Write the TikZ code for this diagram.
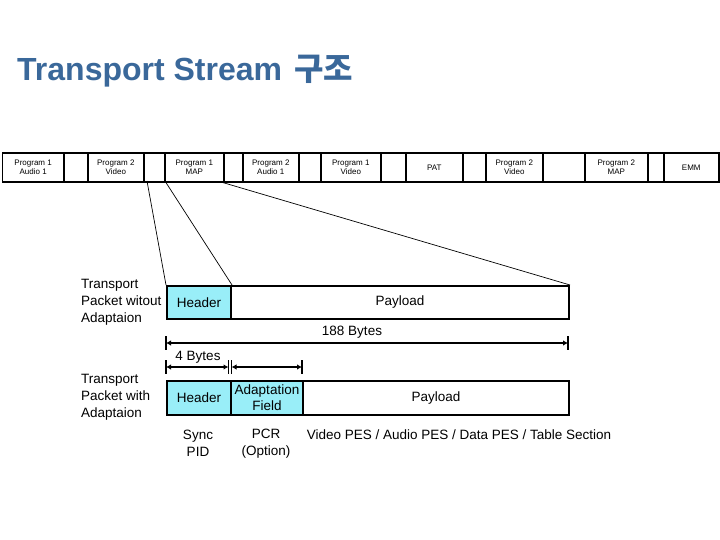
\documentclass[tikz,border=0pt]{standalone}
\usepackage{fontspec}
\setmainfont{Liberation Sans}
\newfontfamily\cjk{Noto Sans CJK KR}
\usetikzlibrary{arrows.meta}
\definecolor{titleblue}{RGB}{58,104,154}
\definecolor{hcyan}{RGB}{153,238,248}
\begin{document}
\begin{tikzpicture}[x=1pt,y=-1pt,
 cell/.style={draw, line width=1.6pt, minimum height=29pt, inner sep=0pt, align=center,
   font=\fontsize{8}{8.5}\selectfont, anchor=north west},
 pbox/.style={draw, line width=2pt, inner sep=0pt, align=center,
   font=\fontsize{13.5}{16}\selectfont, anchor=north west},
 hfill/.style={fill=hcyan},
 lbl/.style={align=left, font=\fontsize{13.5}{17}\selectfont, inner sep=0pt, anchor=west},
 txt/.style={align=center, font=\fontsize{13.5}{17}\selectfont, inner sep=0pt},
 dim/.style={line width=1.5pt, {Latex[length=5pt,width=5.5pt]}-{Latex[length=5pt,width=5.5pt]}},
 endbar/.style={line width=1.5pt},
 link/.style={line width=0.7pt}]
\useasboundingbox (0,0) rectangle (720,540);

% title
\node[anchor=west, inner sep=0pt, text=titleblue, font=\fontsize{32}{32}\selectfont\bfseries] (title) at (17,71) {Transport Stream\hspace{3pt} {\cjk\bfseries 구조}};

% stream strip
\node[cell, minimum width=61.3pt] (c1) at (1.7,152) {Program 1\\Audio 1};
\node[cell, minimum width=24pt] (c2) at (63,152) {};
\node[cell, minimum width=56pt] (c3) at (87,152) {Program 2\\Video};
\node[cell, minimum width=21pt] (c4) at (143,152) {};
\node[cell, minimum width=59pt] (c5) at (164,152) {Program 1\\MAP};
\node[cell, minimum width=19pt] (c6) at (223,152) {};
\node[cell, minimum width=56pt] (c7) at (242,152) {Program 2\\Audio 1};
\node[cell, minimum width=22pt] (c8) at (298,152) {};
\node[cell, minimum width=60pt] (c9) at (320,152) {Program 1\\Video};
\node[cell, minimum width=25pt] (c10) at (380,152) {};
\node[cell, minimum width=57pt] (c11) at (405,152) {PAT};
\node[cell, minimum width=23pt] (c12) at (462,152) {};
\node[cell, minimum width=57pt] (c13) at (485,152) {Program 2\\Video};
\node[cell, minimum width=42pt] (c14) at (542,152) {};
\node[cell, minimum width=63pt] (c15) at (584,152) {Program 2\\MAP};
\node[cell, minimum width=16pt] (c16) at (647,152) {};
\node[cell, minimum width=55pt] (c17) at (663,152) {EMM};

% packet without adaptation
\node[pbox, hfill, minimum width=64pt, minimum height=33pt] (h1) at (166,285) {Header};
\node[pbox, minimum width=338pt, minimum height=33pt] (p1) at (230,285) {Payload};
\node[lbl] (l1) at (81,302) {Transport\\Packet witout\\Adaptaion};

% links from strip
\coordinate (s1) at (147,181);
\draw[link] (s1) -- (h1.north west);
\draw[link] (c5.south west) ++(2,0) coordinate (s2) -- (h1.north east);
\draw[link] (c6.south west) -- (p1.north east);

% 188 bytes
\coordinate (d1a) at (166,343);
\coordinate (d1b) at (568,343);
\draw[dim] (d1a) -- (d1b);
\draw[endbar] (166,336) -- (166,350);
\draw[endbar] (568,336) -- (568,350);
\node[txt] (b188) at (352,332) {188 Bytes};

% 4 bytes
\coordinate (d2a) at (166,367);
\coordinate (d2b) at (230,367);
\coordinate (d2c) at (302,367);
\draw[dim] (d2a) -- ([xshift=-1.5pt]d2b);
\draw[dim] ([xshift=1.5pt]d2b) -- (d2c);
\draw[endbar] (166,360) -- (166,374);
\draw[endbar] (228.5,360) -- (228.5,374);
\draw[endbar] (231.5,360) -- (231.5,374);
\draw[endbar] (302,360) -- (302,374);
\node[txt] (b4) at (198,357) {4 Bytes};

% packet with adaptation
\node[pbox, hfill, minimum width=64pt, minimum height=34pt] (h2) at (166,380) {Header};
\node[pbox, hfill, minimum width=72pt, minimum height=34pt] (af) at (230,380) {Adaptation\\Field};
\node[pbox, minimum width=266pt, minimum height=34pt] (p2) at (302,380) {Payload};
\node[lbl] (l2) at (81,397) {Transport\\Packet with\\Adaptaion};

% descriptions
\node[txt] (n1) at (198,443.5) {Sync\\PID};
\node[txt] (n2) at (266,443.5) {PCR\\(Option)};
\node[txt] (n3) at (459,435) {Video PES / Audio PES / Data PES / Table Section};
\end{tikzpicture}
\end{document}
